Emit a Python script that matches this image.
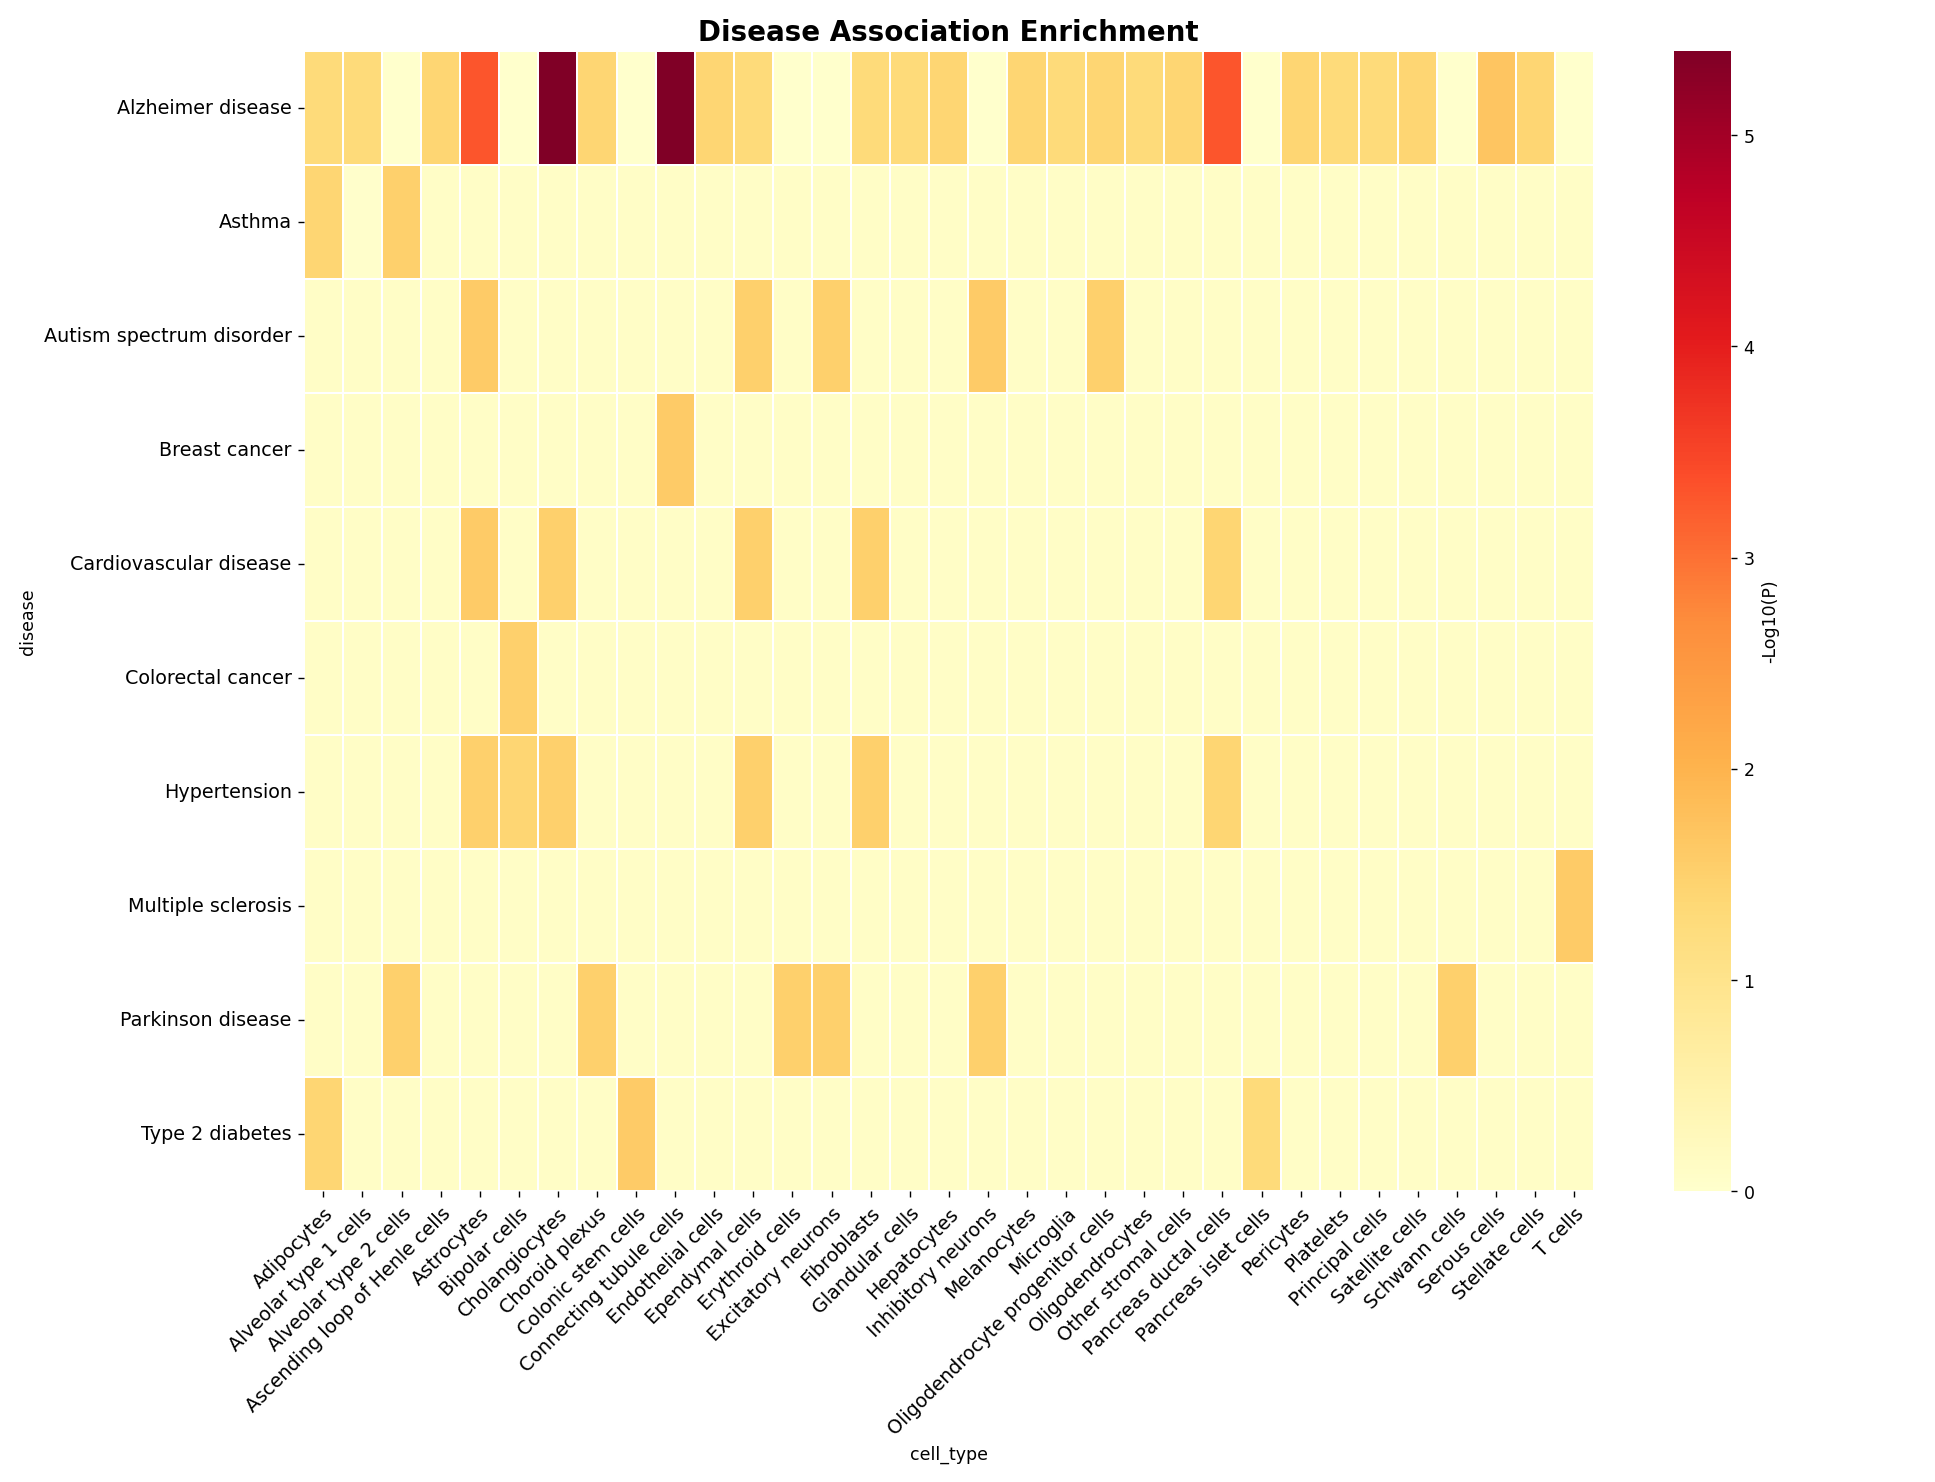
import numpy as np, pandas as pd, seaborn as sns, matplotlib
matplotlib.use("Agg")
import matplotlib.pyplot as plt

cell_types = ["Adipocytes","Alveolar type 1 cells","Alveolar type 2 cells","Ascending loop of Henle cells",
 "Astrocytes","Bipolar cells","Cholangiocytes","Choroid plexus","Colonic stem cells","Connecting tubule cells",
 "Endothelial cells","Ependymal cells","Erythroid cells","Excitatory neurons","Fibroblasts","Glandular cells",
 "Hepatocytes","Inhibitory neurons","Melanocytes","Microglia","Oligodendrocyte progenitor cells",
 "Oligodendrocytes","Other stromal cells","Pancreas ductal cells","Pancreas islet cells","Pericytes",
 "Platelets","Principal cells","Satellite cells","Schwann cells","Serous cells","Stellate cells","T cells"]
diseases = ["Alzheimer disease","Asthma","Autism spectrum disorder","Breast cancer","Cardiovascular disease",
 "Colorectal cancer","Hypertension","Multiple sclerosis","Parkinson disease","Type 2 diabetes"]

b = 0.1
alzheimer = [1.3,1.3,0.02,1.4,3.3,0.02,5.4,1.4,0.02,5.4,1.4,1.3,0.02,0.02,1.3,1.3,1.4,0.02,1.4,1.3,1.4,1.3,1.4,3.3,0.02,1.4,1.3,1.3,1.4,0.02,1.7,1.4,0.02]
asthma = [1.4,0.03,1.5]+[b]*30
autism = [b]*33
for i,v in [(4,1.6),(11,1.5),(13,1.5),(17,1.6),(20,1.5)]: autism[i]=v
breast = [b]*33; breast[9]=1.6
cardio = [b]*33
for i,v in [(4,1.6),(6,1.5),(11,1.5),(14,1.5),(23,1.4)]: cardio[i]=v
colorectal = [b]*33; colorectal[5]=1.5
hyper = [b]*33
for i,v in [(4,1.5),(5,1.4),(6,1.5),(11,1.5),(14,1.5),(23,1.4)]: hyper[i]=v
ms = [b]*33; ms[32]=1.6
parkinson = [b]*33
for i,v in [(2,1.5),(7,1.5),(12,1.5),(13,1.5),(17,1.5),(29,1.5)]: parkinson[i]=v
t2d = [b]*33
for i,v in [(0,1.4),(8,1.6),(24,1.3)]: t2d[i]=v

df = pd.DataFrame([alzheimer,asthma,autism,breast,cardio,colorectal,hyper,ms,parkinson,t2d],
                  index=pd.Index(diseases,name="disease"), columns=pd.Index(cell_types,name="cell_type"))

fig, ax = plt.subplots(figsize=(15.48,11.86), dpi=125)
sns.heatmap(df, cmap="YlOrRd", vmin=0, vmax=5.4, linewidths=1, linecolor="white",
            cbar_kws={"label":"-Log10(P)"}, ax=ax)
ax.set_title("Disease Association Enrichment", fontsize=16, fontweight="bold")
plt.setp(ax.get_xticklabels(), rotation=45, ha="right", rotation_mode="anchor", fontsize=11)
plt.setp(ax.get_yticklabels(), rotation=0, fontsize=11)
plt.tight_layout()
fig.savefig("out.png")
